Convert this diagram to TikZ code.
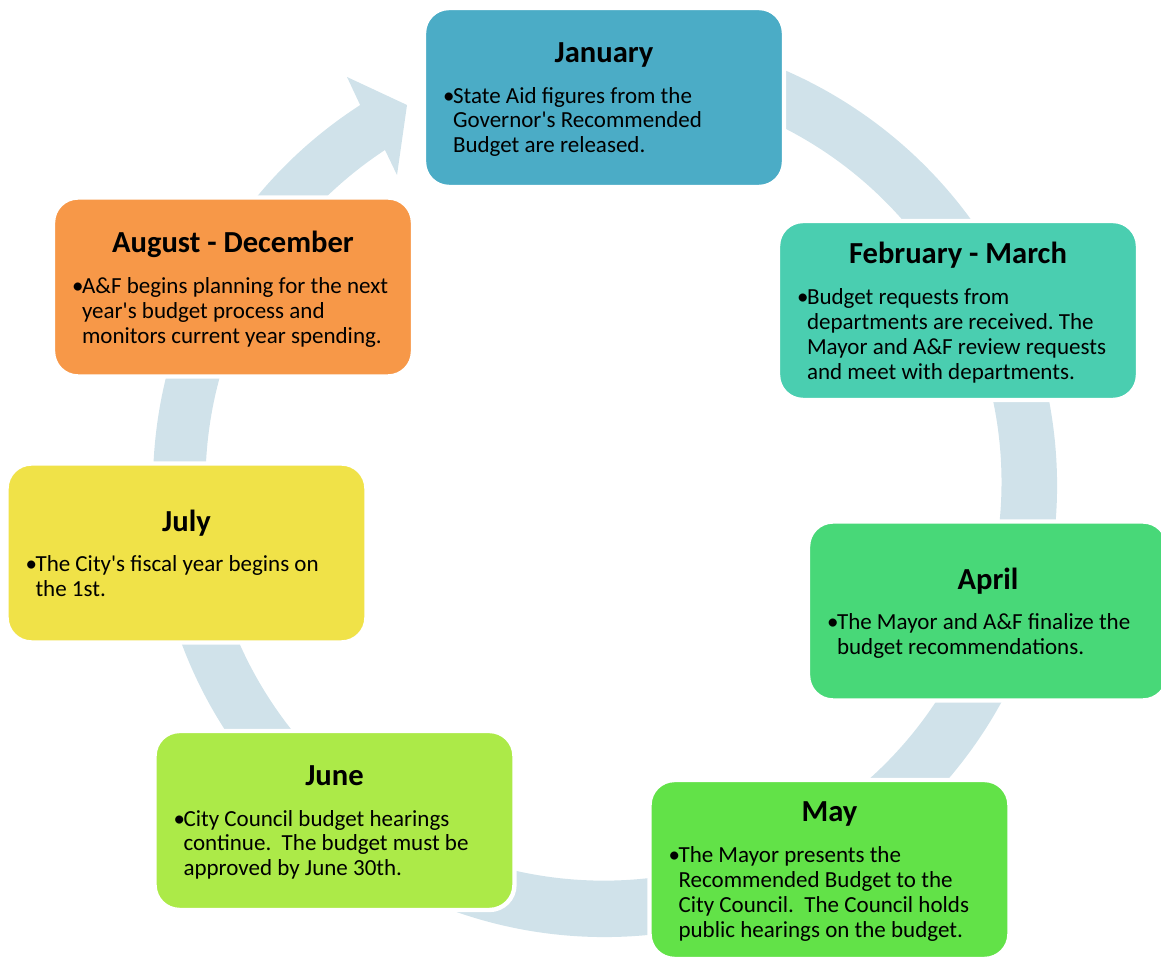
\documentclass[tikz,border=0pt]{standalone}
\usepackage{fontspec}
\newfontfamily\cardfont{Carlito}
\frenchspacing
\definecolor{ringBlue}{RGB}{208,226,234}
\definecolor{janCol}{RGB}{75,172,198}
\definecolor{febCol}{RGB}{74,206,176}
\definecolor{aprCol}{RGB}{72,216,120}
\definecolor{mayCol}{RGB}{98,226,72}
\definecolor{junCol}{RGB}{172,234,72}
\definecolor{julCol}{RGB}{240,226,72}
\definecolor{augCol}{RGB}{247,152,72}
\tikzset{
  card/.style={rectangle, rounded corners=0.5cm, draw=white, line width=2.5pt,
    minimum width=7.2cm, minimum height=3.58cm, inner sep=0pt, text=black,
    font=\cardfont},
  ringfill/.style={fill=ringBlue},
}
\newcommand{\cardtext}[2]{%
  \parbox{6.44cm}{\centering\fontsize{17.4}{20}\selectfont\bfseries #1\par
    \vspace{9pt}\raggedright\fontsize{13.1}{14.2}\selectfont\mdseries
    \makebox[0.2cm][l]{\textbullet}\begin{tabular}[t]{@{}l@{}}#2\end{tabular}\par
    \vspace{-4.5pt}}}

\begin{document}
\begin{tikzpicture}[x=0.02cm, y=0.02cm]
    \useasboundingbox (0,0) rectangle (1161,957);
    % the cycle ring
    \coordinate (hub) at (605,472);
    \fill[ringfill] ([shift={(100:452)}]hub)
      arc[start angle=100, end angle=-237.2, radius=452]
      -- (347,880) -- (407,852) -- (397,782) -- (385,807)
      arc[start angle=-236.7, end angle=100, radius=398] -- cycle;
    % the months
    \node[card, fill=janCol] (jan) at (604,859.5) {\cardtext{January}{%
      State Aid figures from the\\ Governor's Recommended\\ Budget are released.}};
    \node[card, fill=febCol] (febmar) at (958,646.5) {\cardtext{February - March}{%
      Budget requests from\\ departments are received. The\\
      Mayor and A\&F review requests\\ and meet with departments.}};
    \node[card, fill=aprCol] (apr) at (988,346) {\cardtext{April}{%
      The Mayor and A\&F finalize the\\ budget recommendations.}};
    \node[card, fill=mayCol] (may) at (829.5,87.5) {\cardtext{May}{%
      The Mayor presents the\\ Recommended Budget to the\\
      City Council.~ The Council holds\\ public hearings on the budget.}};
    \node[card, fill=junCol] (jun) at (334.5,136.5) {\cardtext{June}{%
      City Council budget hearings\\ continue.~ The budget must be\\
      approved by June 30th.}};
    \node[card, fill=julCol] (jul) at (186.5,404) {\cardtext{July}{%
      The City's fiscal year begins on\\ the 1st.}};
    \node[card, fill=augCol] (augdec) at (233,670) {\cardtext{August - December}{%
      A\&F begins planning for the next\\ year's budget process and\\
      monitors current year spending.}};
\end{tikzpicture}
\end{document}
